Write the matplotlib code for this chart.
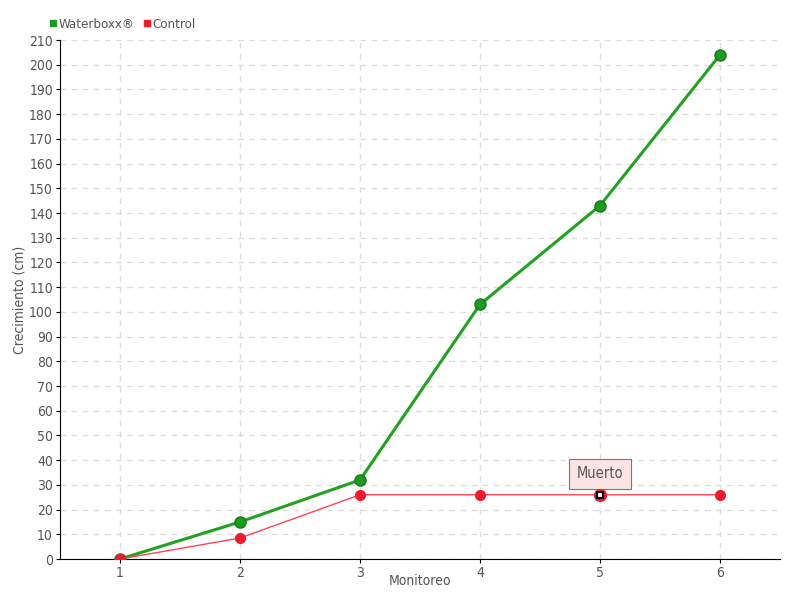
import matplotlib
matplotlib.use("Agg")
import matplotlib.pyplot as plt
from matplotlib.lines import Line2D

monitoreo = [1, 2, 3, 4, 5, 6]
waterboxx = [0, 15, 32, 103, 143, 204]
control = [0, 8.5, 26, 26, 26, 26]
yticks = list(range(0, 211, 10))

plt.rcParams["font.family"] = ["DejaVu Sans"]
plt.rcParams["font.stretch"] = "condensed"
text_color = "#555555"

fig = plt.figure(figsize=(8, 6), dpi=100)
ax = fig.add_axes([0.075, 0.0683, 0.9, 0.865])

ax.plot(monitoreo, waterboxx, color="#22a122", lw=2.2, marker="o", ms=8,
        mfc="#1f9a1f", mec="#187818", mew=1, zorder=3)
ax.plot(monitoreo, control, color="#ff4455", lw=1, marker="o", ms=7,
        mfc="#ee1c2e", mec="#ee1c2e", zorder=4)

# dead plant marker
ax.plot([5], [26], marker="s", ms=5, mfc="white", mec="black", mew=1.5, zorder=5)
ax.plot([5], [26], marker="o", ms=8, mfc="none", mec="#ee1c2e", mew=1.5, zorder=4)
ax.annotate("Muerto", xy=(5, 26), xytext=(5, 34.5), ha="center", va="center",
            fontsize=10.5, color=text_color,
            bbox=dict(boxstyle="square,pad=0.5", fc="#fde4e4", ec="#777777", lw=0.8),
            arrowprops=dict(arrowstyle="-", color="#777777", lw=0.8))

ax.set_xlim(0.5, 6.5)
ax.set_ylim(0, 210)
ax.set_xticks(monitoreo)
ax.set_yticks(yticks)
ax.grid(True, color="#dddddd", ls=(0, (4, 4)), lw=1)
ax.set_axisbelow(True)
for s in ["top", "right"]:
    ax.spines[s].set_visible(False)
ax.spines["left"].set_color("black")
ax.spines["bottom"].set_color("black")
ax.tick_params(direction="out", length=3, color="black", labelcolor=text_color,
               labelsize=10, pad=2)
ax.set_xlabel("Monitoreo", color=text_color, fontsize=10, labelpad=-4)
ax.set_ylabel("Crecimiento (cm)", color=text_color, fontsize=10)
ax.yaxis.set_label_coords(-0.046, 0.5)

handles = [Line2D([], [], ls="none", marker="s", ms=4.5, color="#1f9a1f"),
           Line2D([], [], ls="none", marker="s", ms=4.5, color="#ee1c2e")]
fig.legend(handles, ["Waterboxx®", "Control"], loc="upper left",
           bbox_to_anchor=(0.046, 0.99), ncol=2, frameon=False, fontsize=9.5,
           handletextpad=0.05, columnspacing=0.6, handlelength=0.7,
           labelcolor=text_color)

fig.savefig("out.png", dpi=100)
